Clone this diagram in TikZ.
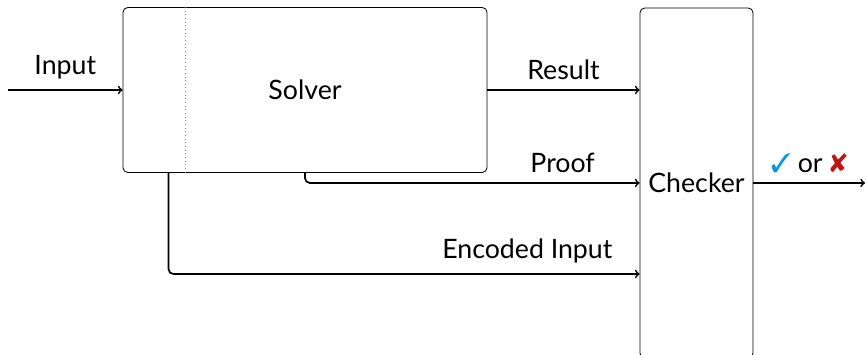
\documentclass[tikz,border=0pt]{standalone}
\usepackage{fontspec}
\setmainfont{Lato}
\usepackage{pifont}
\definecolor{okblue}{RGB}{0,150,225}
\definecolor{badred}{RGB}{190,20,20}
\tikzset{
  stage/.style={draw, line width=0.6pt, rounded corners=0.12cm, font=\fontsize{19}{22}\selectfont},
  flow/.style={->, line width=1.2pt, rounded corners=0.12cm},
  flowlabel/.style={font=\fontsize{19}{22}\selectfont, yshift=3.5pt}
}
\begin{document}
\begin{tikzpicture}
\useasboundingbox (0,0) rectangle (21.675,8.875);
\node[stage, minimum width=9.1cm, minimum height=4.125cm] (solver) at (7.625,6.625) {Solver};
\node[stage, minimum width=2.825cm, minimum height=8.75cm] (checker) at (17.4125,4.3) {Checker};
\coordinate (in) at (0.2,6.625);
\coordinate (out) at (21.625,4.3);
\draw[dotted, gray, line width=0.6pt] ([xshift=1.575cm]solver.north west) -- ([xshift=1.575cm]solver.south west);
\draw[flow] (in) -- node[flowlabel, above] {Input} (solver.west);
\draw[flow] (solver.east) -- node[flowlabel, above] {Result} (checker.west |- solver.east);
\draw[flow] (solver.south) |- node[flowlabel, pos=0.885, above] {Proof} (checker.west);
\draw[flow] ([xshift=1.15cm]solver.south west) |- node[flowlabel, pos=0.977, above left] {Encoded Input} ([yshift=-2.275cm]checker.west);
\draw[flow] (checker.east) -- node[flowlabel, above] {{\color{okblue}\ding{51}} or {\color{badred}\ding{56}}} (out);
\end{tikzpicture}
\end{document}
